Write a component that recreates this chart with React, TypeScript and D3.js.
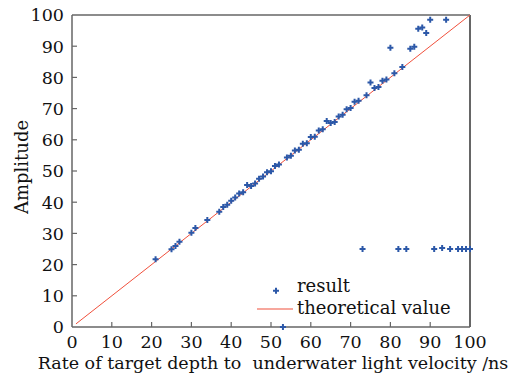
import React from "react";
import * as d3 from "d3";

const resultX = [21, 25, 26, 27, 30, 31, 34, 37, 38, 39, 40, 41, 42, 43, 44, 45, 46, 47, 48, 49, 50, 51, 52, 53, 54, 55, 56, 57, 58, 59, 60, 61, 62, 63, 64, 65, 66, 67, 68, 69, 70, 71, 72, 73, 74, 75, 76, 77, 78, 79, 80, 81, 82, 83, 84, 85, 86, 87, 88, 89, 90, 91, 93, 94, 95, 97, 98, 99, 100];
const resultY = [21.7, 24.9, 26.0, 27.3, 30.2, 31.7, 34.3, 36.9, 38.5, 39.2, 40.5, 41.5, 42.8, 43.2, 45.5, 45.2, 46.0, 47.5, 48.2, 49.6, 49.9, 51.6, 52.1, 0, 54.3, 54.9, 56.6, 56.8, 58.7, 58.9, 60.9, 61.0, 63.0, 63.4, 66.0, 65.4, 65.7, 67.5, 68.0, 69.8, 70.2, 72.2, 72.5, 25, 74.3, 78.4, 76.6, 76.9, 78.9, 79.3, 89.5, 81.3, 25, 83.3, 25, 89.2, 89.8, 95.6, 96.0, 94.2, 98.5, 25, 25.3, 98.5, 25, 25, 25, 25, 25];
const theoryX = [1, 100];
const theoryY = [1, 100];
const xTicks = [0, 10, 20, 30, 40, 50, 60, 70, 80, 90, 100];
const yTicks = [0, 10, 20, 30, 40, 50, 60, 70, 80, 90, 100];
const xTitle = "Rate of target depth to  underwater light velocity /ns";
const yTitle = "Amplitude";
const legendLabels = ["result", "theoretical value"];

const W = 525, H = 378;
const L = 72, R = 470, T = 15, B = 327;
const FONT = "'DejaVu Serif', serif";
const BLUE = "#2c58a8";
const RED = "#f0503c";
const AXIS = "#666";

export default function App() {
  const x = d3.scaleLinear().domain([0, 100]).range([L, R]);
  const y = d3.scaleLinear().domain([0, 100]).range([B, T]);
  const sym = d3.symbol(d3.symbolCross, 20)() as string;
  const line = d3.line<number>().x((d) => x(theoryX[d])).y((d) => y(theoryY[d]));
  return (
    <svg width={W} height={H} style={{ position: "absolute", left: 0, top: 0, background: "#fff" }} fontFamily={FONT}>
      <rect x={0} y={0} width={W} height={H} fill="#fff" />
      {/* frame */}
      <line x1={L} y1={T} x2={R} y2={T} stroke={AXIS} strokeWidth={1.5} />
      <line x1={R} y1={T} x2={R} y2={B} stroke={AXIS} strokeWidth={2} />
      <line x1={L} y1={T} x2={L} y2={B} stroke={AXIS} strokeWidth={1.5} />
      <line x1={L} y1={B} x2={R} y2={B} stroke={AXIS} strokeWidth={1.5} />
      {/* ticks */}
      {xTicks.map((t) => (
        <g key={"x" + t}>
          {t > 0 && t < 100 && <line x1={x(t)} x2={x(t)} y1={B} y2={B - 5} stroke={AXIS} strokeWidth={1.2} />}
          <text x={x(t)} y={348} textAnchor="middle" fontSize={17.5} fill="#111">{t}</text>
        </g>
      ))}
      {yTicks.map((t) => (
        <g key={"y" + t}>
          {t > 0 && t < 100 && <line x1={L} x2={L + 5} y1={y(t)} y2={y(t)} stroke={AXIS} strokeWidth={1.2} />}
          <text x={64} y={y(t)} dy="0.36em" textAnchor="end" fontSize={17.5} fill="#111">{t}</text>
        </g>
      ))}
      {/* theoretical line */}
      <path d={line([0, 1]) as string} fill="none" stroke={RED} strokeWidth={1} />
      {/* points */}
      {resultX.map((v, i) => (
        <path key={i} d={sym} transform={`translate(${x(v)},${y(resultY[i])})`} fill={BLUE} />
      ))}
      {/* legend */}
      <path d={sym} transform="translate(276,290.7)" fill={BLUE} />
      <text x={297} y={292} fontSize={18} fill="#111">{legendLabels[0]}</text>
      <line x1={257} x2={293} y1={309} y2={309} stroke={RED} strokeWidth={1.2} />
      <text x={297} y={314} fontSize={18} fill="#111">{legendLabels[1]}</text>
      {/* titles */}
      <text x={273} y={369} textAnchor="middle" fontSize={17.5} fill="#111" style={{ whiteSpace: "pre" }}>{xTitle}</text>
      <text transform="translate(28,167) rotate(-90)" textAnchor="middle" fontSize={18} fill="#111">{yTitle}</text>
    </svg>
  );
}
